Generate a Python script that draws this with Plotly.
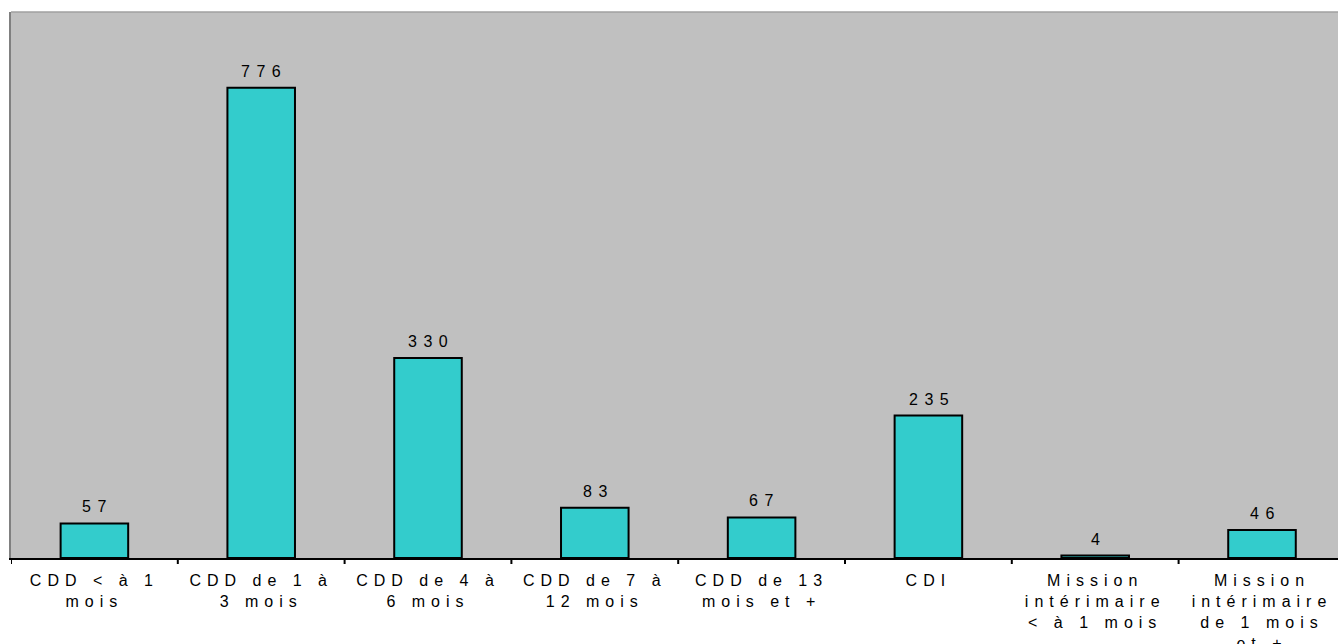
import plotly.graph_objects as go

categories = [
    "CDD < à 1|mois",
    "CDD de 1 à|3 mois",
    "CDD de 4 à|6 mois",
    "CDD de 7 à|12 mois",
    "CDD de 13|mois et +",
    "CDI",
    "Mission|intérimaire|< à 1 mois",
    "Mission|intérimaire|de 1 mois|et +",
]
values = [57, 776, 330, 83, 67, 235, 4, 46]

LS_LABEL = 6.0
LS_VALUE = 6.5
FONT = "Liberation Sans, Arial, sans-serif"


def spaced(text, ls):
    return "<br>".join(
        f'<span style="letter-spacing:{ls}px">{part}</span>' for part in text.split("|")
    )


tick_text = [spaced(c, LS_LABEL) for c in categories]
xs = list(range(len(categories)))

fig = go.Figure()
fig.add_trace(go.Bar(
    x=xs,
    y=values,
    width=0.405,
    marker=dict(color="#33CCCC", line=dict(color="black", width=2)),
    hoverinfo="skip",
))

for x, v in zip(xs, values):
    fig.add_annotation(
        x=x, y=v, xref="x", yref="y",
        text=spaced(str(v), LS_VALUE),
        showarrow=False,
        yanchor="bottom",
        yshift=6,
        xshift=LS_VALUE / 2,
        font=dict(family=FONT, size=16, color="black"),
    )

fig.update_layout(
    width=1338,
    height=644,
    margin=dict(l=11, r=0, t=12, b=86),
    paper_bgcolor="white",
    plot_bgcolor="#C0C0C0",
    showlegend=False,
    font=dict(family=FONT, size=16, color="black"),
    xaxis=dict(
        type="linear",
        range=[-0.5, -0.5 + 1327 / 166.8],
        tickmode="array",
        tickvals=xs,
        ticktext=tick_text,
        ticks="",
        showline=True,
        linecolor="black",
        linewidth=2,
        showgrid=False,
        zeroline=False,
        automargin=False,
        tickfont=dict(family=FONT, size=16, color="black"),
        ticklabelstandoff=7,
    ),
    yaxis=dict(
        range=[0, 901],
        showticklabels=False,
        ticks="",
        showgrid=False,
        zeroline=False,
        showline=True,
        automargin=False,
        linecolor="#808080",
        linewidth=2,
    ),
)

# category boundary tick marks below the axis
for b in [i - 0.5 for i in range(len(categories) + 1)]:
    fig.add_shape(type="line", xref="x", yref="paper", x0=b, x1=b, y0=0, y1=-0.011,
                  line=dict(color="black", width=2))

# top border of plot area
fig.add_shape(type="line", xref="paper", yref="paper", x0=0, x1=1, y0=1, y1=1,
              line=dict(color="#A0A0A0", width=1.5))

fig.write_html(
    "out.html",
    config={"displayModeBar": False, "staticPlot": True},
    post_script="document.body.style.margin='0';document.body.style.overflow='hidden';",
)
